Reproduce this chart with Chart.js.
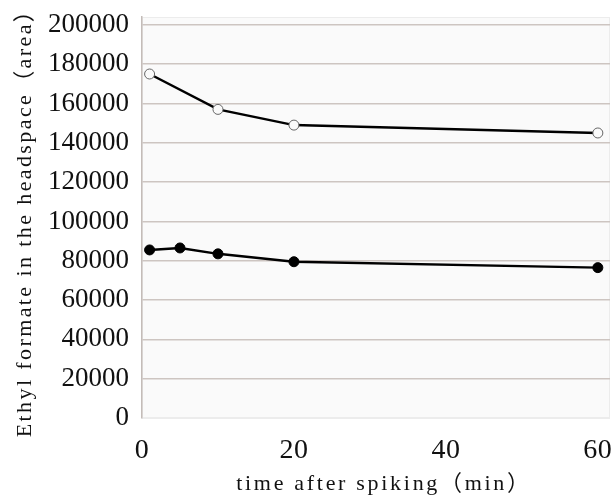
<!DOCTYPE html>
<html>
<head>
<meta charset="utf-8">
<script src="https://cdn.jsdelivr.net/npm/chart.js@4.4.1/dist/chart.umd.min.js"></script>
<style>
  body { margin: 0; background: #fff; }
</style>
</head>
<body>
<canvas id="chart" width="616" height="498"></canvas>
<script>
// data
const xOpen = [1, 10, 20, 60];
const openValues = [175000, 157000, 149000, 145000];
const xFilled = [1, 5, 10, 20, 60];
const filledValues = [85500, 86500, 83500, 79500, 76500];
const yTicks = [0, 20000, 40000, 60000, 80000, 100000, 120000, 140000, 160000, 180000, 200000];
const xTicks = [0, 20, 40, 60];
const xTitle = 'time after spiking（min）';
const yTitle = 'Ethyl formate in the headspace（area）';

const serif = '"Liberation Serif", "Noto Sans CJK SC", serif';

// the original text is spaced out a little: widen letters for labels and title
function spaced(scale, tickLs, titleLs, titleShift) {
    if (scale._spaced) return;
    const wrap = (name, ls, dx) => {
        const fn = scale[name].bind(scale);
        scale[name] = function (...args) {
            this.ctx.save();
            this.ctx.letterSpacing = ls;
            this.ctx.translate(dx, 0);
            fn(...args);
            this.ctx.restore();
        };
    };
    wrap('drawLabels', tickLs, 0);
    wrap('drawTitle', titleLs, titleShift);
    scale._spaced = true;
}

const plotBg = {
    id: 'plotBg',
    beforeDraw(chart) {
        const { ctx, chartArea: a } = chart;
        ctx.save();
        ctx.fillStyle = '#fafafa';
        ctx.fillRect(a.left, a.top, a.right - a.left, a.bottom - a.top);
        ctx.strokeStyle = '#ececec';
        ctx.lineWidth = 1;
        ctx.strokeRect(a.left + 0.5, a.top + 0.5, a.right - a.left - 1, a.bottom - a.top);
        ctx.restore();
    }
};

new Chart(document.getElementById('chart').getContext('2d'), {
    type: 'line',
    data: {
        datasets: [{
            data: xOpen.map((x, i) => ({ x: x, y: openValues[i] })),
            borderColor: '#000',
            borderWidth: 2.5,
            pointRadius: 5,
            pointBorderWidth: 1,
            pointBorderColor: '#666',
            pointBackgroundColor: '#fafafa',
            tension: 0
        }, {
            data: xFilled.map((x, i) => ({ x: x, y: filledValues[i] })),
            borderColor: '#000',
            borderWidth: 2.5,
            pointRadius: 5,
            pointBorderWidth: 1,
            pointBorderColor: '#000',
            pointBackgroundColor: '#000',
            tension: 0
        }]
    },
    options: {
        responsive: false,
        animation: false,
        devicePixelRatio: 1,
        layout: { padding: { top: 17, right: 3, left: 0, bottom: 0 } },
        plugins: { legend: { display: false }, tooltip: { enabled: false } },
        scales: {
            x: {
                type: 'linear',
                min: 0,
                max: 61.6,
                afterBuildTicks: s => { s.ticks = xTicks.map(v => ({ value: v })); },
                afterFit: s => {
                    s.height = 80;
                    s.paddingLeft = 0;
                    s.paddingRight = 0;
                    spaced(s, '0.5px', '2.7px', 8);
                },
                grid: { display: false, drawTicks: false },
                border: { display: false },
                ticks: { color: '#111', padding: 16, font: { family: serif, size: 28 }, callback: v => String(v) },
                title: {
                    display: true, text: xTitle, color: '#111',
                    padding: { top: 0, bottom: 1 },
                    font: { family: serif, size: 22 }
                }
            },
            y: {
                min: 0,
                max: 204000,
                afterBuildTicks: s => { s.ticks = yTicks.map(v => ({ value: v })); },
                afterFit: s => {
                    s.width = 142;
                    s.paddingTop = 0;
                    s.paddingBottom = 0;
                    spaced(s, '0px', '2.4px', 0);
                },
                grid: {
                    drawTicks: false,
                    lineWidth: 1.5,
                    color: c => c.tick && c.tick.value === 0 ? '#ececec' : '#cdc5c1'
                },
                border: { display: true, color: '#c4bcb8', width: 1.5 },
                ticks: { color: '#111', padding: 13, font: { family: serif, size: 27 }, callback: v => String(v) },
                title: {
                    display: true, text: yTitle, color: '#111',
                    padding: { top: 12, bottom: 0 },
                    font: { family: serif, size: 22 }
                }
            }
        }
    },
    plugins: [plotBg]
});
</script>
</body>
</html>
